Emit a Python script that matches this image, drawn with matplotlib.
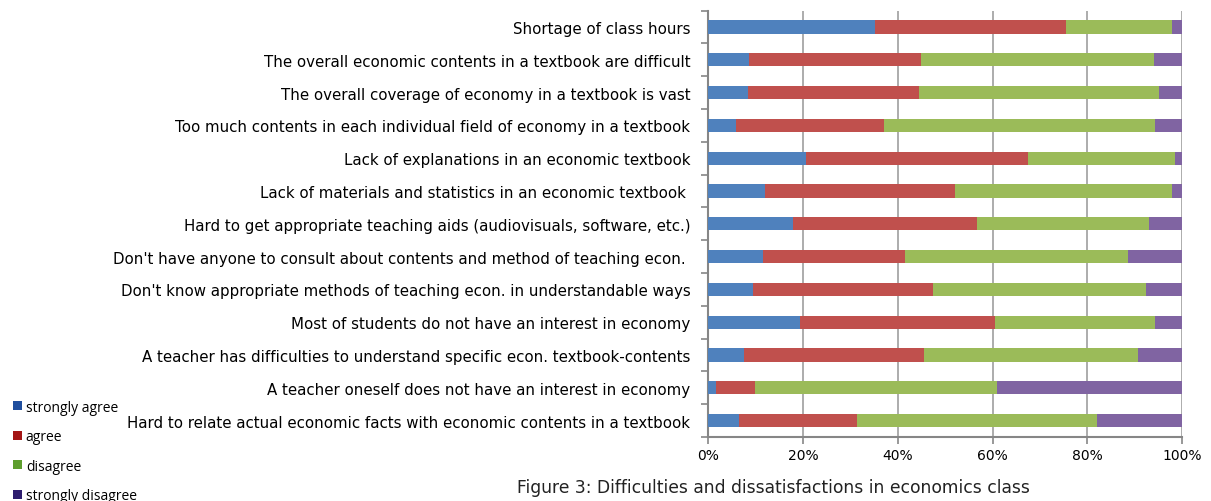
import numpy as np
import matplotlib.pyplot as plt
from matplotlib.patches import Patch

categories = [
    "Shortage of class hours",
    "The overall economic contents in a textbook are difficult",
    "The overall coverage of economy in a textbook is vast",
    "Too much contents in each individual field of economy in a textbook",
    "Lack of explanations in an economic textbook",
    "Lack of materials and statistics in an economic textbook ",
    "Hard to get appropriate teaching aids (audiovisuals, software, etc.)",
    "Don't have anyone to consult about contents and method of teaching econ. ",
    "Don't know appropriate methods of teaching econ. in understandable ways",
    "Most of students do not have an interest in economy",
    "A teacher has difficulties to understand specific econ. textbook-contents",
    "A teacher oneself does not have an interest in economy",
    "Hard to relate actual economic facts with economic contents in a textbook",
]

strongly_agree = [35.1, 8.6, 8.4, 5.9, 20.7, 12.0, 17.9, 11.6, 9.5, 19.4, 7.5, 1.5, 6.5]
agree = [40.5, 36.3, 36.0, 31.2, 46.7, 40.1, 38.8, 30.0, 37.9, 41.1, 38.0, 8.3, 24.9]
disagree = [22.4, 49.2, 50.7, 57.3, 31.2, 45.9, 36.3, 47.1, 45.1, 33.9, 45.3, 51.1, 50.7]
strongly_disagree = [2.0, 5.9, 4.9, 5.6, 1.4, 2.0, 7.0, 11.3, 7.5, 5.6, 9.2, 39.1, 17.9]

series = [strongly_agree, agree, disagree, strongly_disagree]
names = ["strongly agree", "agree", "disagree", "strongly disagree"]
bar_colors = ["#4F81BD", "#C0504D", "#9BBB59", "#8064A2"]
legend_colors = ["#1F4E9E", "#A31515", "#5E9E2E", "#2E1D6E"]

fig = plt.figure(figsize=(12.11, 5.02), dpi=100)
ax = fig.add_axes([0.585, 0.1275, 0.391, 0.8495])

y = np.arange(len(categories))
left = np.zeros(len(categories))
for vals, col in zip(series, bar_colors):
    vals = np.array(vals)
    ax.barh(y, vals, left=left, height=0.4, color=col, zorder=3)
    left += vals

ax.set_xlim(0, 100)
ax.set_ylim(len(categories) - 0.5, -0.5)
ax.set_xticks([0, 20, 40, 60, 80, 100])
ax.set_xticklabels(["0%", "20%", "40%", "60%", "80%", "100%"], fontsize=10)
ax.grid(axis="x", color="#a6a6a6", linewidth=1.3, zorder=0)

ax.set_yticks(y)
ax.set_yticklabels(categories, fontsize=10.8)
ax.set_yticks(np.arange(-0.5, len(categories), 1), minor=True)
ax.tick_params(axis="y", which="major", length=0, pad=13)
ax.tick_params(axis="y", which="minor", length=5, width=1.2, color="#868686", direction="out")
ax.tick_params(axis="x", length=5, width=1.2, color="#868686", direction="out", pad=3)

for s in ["top", "right"]:
    ax.spines[s].set_visible(False)
ax.spines["left"].set_color("#868686")
ax.spines["left"].set_linewidth(1.5)
ax.spines["bottom"].set_color("#868686")
ax.spines["bottom"].set_linewidth(1.5)

handles = [Patch(facecolor=c, edgecolor="none") for c in legend_colors]
fig.legend(handles, names, loc="lower left", bbox_to_anchor=(0.003, -0.024),
           frameon=False, handlelength=0.65, handleheight=0.65,
           handletextpad=0.25, labelspacing=1.05, borderpad=0.2,
           prop={"family": "Open Sans", "size": 10})

fig.text(0.427, 0.028, "Figure 3: Difficulties and dissatisfactions in economics class",
         fontsize=12.3, ha="left", va="center", color="#222222")

fig.savefig("out.png", dpi=100)
